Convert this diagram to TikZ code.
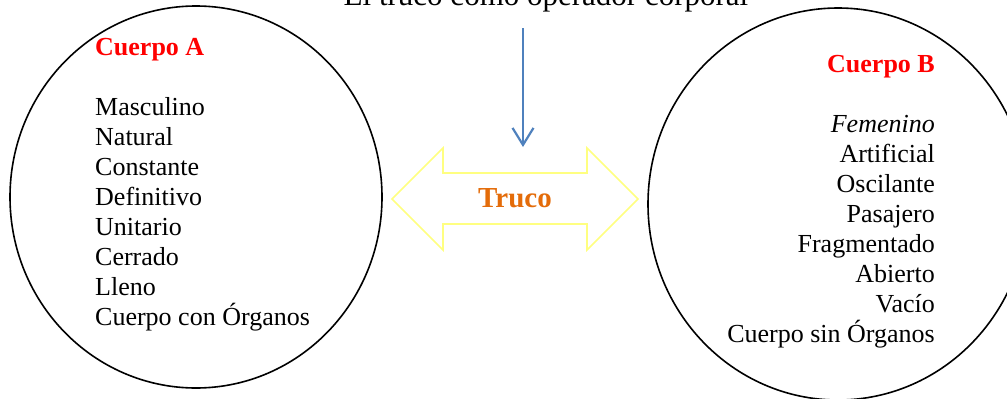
\documentclass[tikz,border=0pt]{standalone}
\usepackage{fontspec}
\setmainfont{Liberation Serif}
\usetikzlibrary{arrows.meta}
\definecolor{cuerpored}{RGB}{255,0,0}
\definecolor{trucoorange}{RGB}{228,108,10}
\definecolor{arrowblue}{RGB}{79,129,189}
\definecolor{lightyellow}{RGB}{255,255,128}
\begin{document}
\begin{tikzpicture}[x=1pt,y=-1pt,every node/.style={inner sep=0pt}]

    \newcommand*{\xLeftList}{95}%
    \newcommand*{\xRightList}{935}%
    \def\pitch {30};
    \def\yLeftFirst {115};
    \def\yRightFirst {132};

    \useasboundingbox (0,0) rectangle (1007,399);

    % title, only its lower part is on the page
    \node [anchor=base, font=\fontsize{31}{36}\selectfont] (title) at (546,5) {El truco como operador corporal};

    % the two bodies
    \draw [line width=1.6pt] (196,197) ellipse [x radius=186, y radius=191];
    \draw [line width=1.6pt] (838,204) ellipse [x radius=190, y radius=196];

    \node [anchor=base west, text=cuerpored, font=\bfseries\fontsize{26}{30}\selectfont] (cuerpoA) at (\xLeftList,55) {Cuerpo A};
    \node [anchor=base east, text=cuerpored, font=\bfseries\fontsize{26}{30}\selectfont] (cuerpoB) at (\xRightList,72) {Cuerpo B};

    \foreach \word [count=\i from 0] in {Masculino, Natural, Constante, Definitivo, Unitario, Cerrado, Lleno, Cuerpo con Órganos} {
      \pgfmathsetmacro\ycoord{\yLeftFirst + \pitch*\i};
      \node [anchor=base west, font=\fontsize{26}{30}\selectfont] (itemA\i) at (\xLeftList,\ycoord) {\word};
    }
    \foreach \word [count=\i from 0] in {\textit{Femenino}, Artificial, Oscilante, Pasajero, Fragmentado, Abierto, Vacío, Cuerpo sin Órganos} {
      \pgfmathsetmacro\ycoord{\yRightFirst + \pitch*\i};
      \node [anchor=base east, font=\fontsize{26}{30}\selectfont] (itemB\i) at (\xRightList,\ycoord) {\word};
    }

    % the trick between them
    \draw [line width=1.6pt, lightyellow, line join=miter] (392,199) -- (443,148) -- (443,173) -- (587,173) -- (587,148) -- (638,199)
      -- (587,250) -- (587,224) -- (443,224) -- (443,250) -- cycle;
    \node [anchor=base, text=trucoorange, font=\bfseries\fontsize{29}{34}\selectfont] (truco) at (515,207) {Truco};

    \coordinate (arrowtop) at (523,28);
    \coordinate (arrowtip) at (523,147);
    \draw [line width=2.2pt, arrowblue, -{Straight Barb[length=17pt, width=21pt, line width=2.2pt]}] (arrowtop) -- (arrowtip);
    % \draw (title) -- (truco);
\end{tikzpicture}
\end{document}
